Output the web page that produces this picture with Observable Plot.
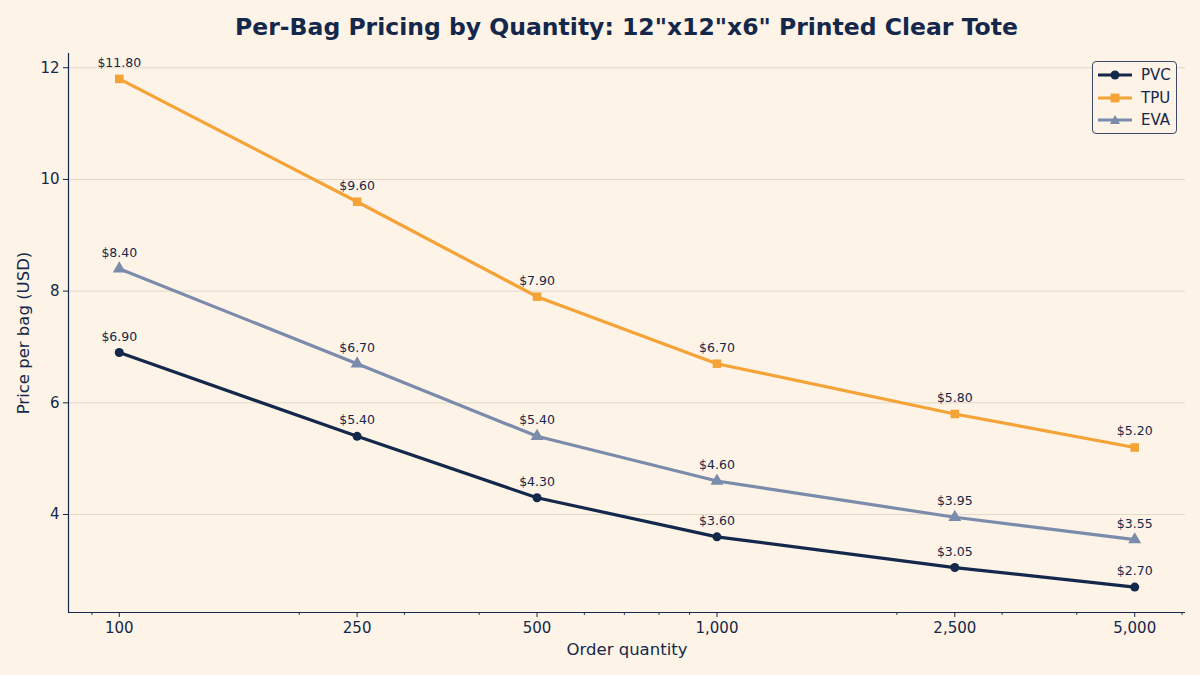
<!DOCTYPE html>
<html>
<head>
<meta charset="utf-8">
<script src="https://cdn.jsdelivr.net/npm/d3@7"></script>
<script src="https://cdn.jsdelivr.net/npm/@observablehq/plot@0.6"></script>
<style>
  html, body { margin: 0; padding: 0; background: #fdf3e6; }
  #wrap { position: relative; width: 1200px; height: 675px; font-family: "DejaVu Sans", sans-serif; }
  #title { position: absolute; left: 68px; width: 1117px; top: 13px; text-align: center; font-size: 23.5px; font-weight: bold; color: #14284b; }
  #legend { position: absolute; left: 1092px; top: 61px; width: 83px; height: 71px; border: 1px solid #3d4b68; border-radius: 4px; background: #fdf3e6; }
  .lrow { position: absolute; left: 0; width: 83px; height: 20px; display: flex; align-items: center; white-space: nowrap; }
  .lrow svg { flex-shrink: 0; }
  .lrow span { font-size: 15px; color: #14284b; margin-left: 8px; flex-shrink: 0; }
</style>
</head>
<body>
<div id="wrap">
  <div id="chart"></div>
  <div id="title">Per-Bag Pricing by Quantity: 12"x12"x6" Printed Clear Tote</div>
  <div id="legend"></div>
</div>
<script>
const quantities = [100, 250, 500, 1000, 2500, 5000];
const seriesNames = ["PVC", "TPU", "EVA"];
const pvcPrices = [6.90, 5.40, 4.30, 3.60, 3.05, 2.70];
const tpuPrices = [11.80, 9.60, 7.90, 6.70, 5.80, 5.20];
const evaPrices = [8.40, 6.70, 5.40, 4.60, 3.95, 3.55];
const seriesColors = ["#14284b", "#f5a236", "#7a8bab"];
const seriesSymbols = ["circle", "square", "triangle"];
const xTicks = [100, 250, 500, 1000, 2500, 5000];
const xMinorTicks = [90, 200, 300, 400, 600, 700, 800, 900, 2000, 3000, 4000, 6000];
const yTicks = [4, 6, 8, 10, 12];

const priceLists = [pvcPrices, tpuPrices, evaPrices];
const rows = [];
seriesNames.forEach((s, i) => quantities.forEach((q, j) => rows.push({series: s, qty: q, price: priceLists[i][j]})));

const lo = Math.log10(quantities[0]), hi = Math.log10(quantities[quantities.length - 1]);
const xDomain = [10 ** (lo - 0.05 * (hi - lo)), 10 ** (hi + 0.05 * (hi - lo))];
const allP = rows.map(d => d.price);
const pmin = d3.min(allP), pmax = d3.max(allP);
const yDomain = [pmin - 0.05 * (pmax - pmin), pmax + 0.05 * (pmax - pmin)];

const navy = "#14284b";
const marks = [
  Plot.gridY(yTicks, {stroke: "#e2d9cb", strokeOpacity: 1, strokeWidth: 1}),
  Plot.axisY(yTicks, {tickSize: 5, tickFormat: d => d, fontSize: 15, fill: navy, stroke: navy, tickPadding: 4, label: null}),
  Plot.axisX(xTicks, {tickSize: 5, tickFormat: d3.format(","), fontSize: 15, fill: navy, stroke: navy, tickPadding: 5, label: null}),
  Plot.axisX(xMinorTicks, {tickSize: 2.8, tickFormat: null, text: null, stroke: navy, label: null}),
  Plot.ruleX([xDomain[0]], {stroke: navy, strokeWidth: 1.2}),
  Plot.ruleY([yDomain[0]], {stroke: navy, strokeWidth: 1.2}),
];
seriesNames.forEach((s, i) => {
  const data = rows.filter(d => d.series === s);
  marks.push(Plot.line(data, {x: "qty", y: "price", stroke: seriesColors[i], strokeWidth: 3.2}));
  marks.push(Plot.dot(data, {x: "qty", y: "price", fill: seriesColors[i], symbol: seriesSymbols[i], r: i === 0 ? 4.5 : 4.8, stroke: "none"}));
  marks.push(Plot.text(data, {x: "qty", y: "price", text: d => "$" + d.price.toFixed(2), dy: -16, fontSize: 12.5, fill: navy}));
});

const chart = Plot.plot({
  width: 1200,
  height: 675,
  marginLeft: 68,
  marginRight: 15,
  marginTop: 53,
  marginBottom: 63,
  style: {background: "#fdf3e6", fontFamily: "DejaVu Sans, sans-serif", color: navy, overflow: "visible"},
  x: {type: "log", domain: xDomain, label: null},
  y: {domain: yDomain, label: null},
  marks: [
    ...marks,
    Plot.text(["Order quantity"], {frameAnchor: "bottom", dy: 42, fontSize: 16.5, fill: navy}),
    Plot.text(["Price per bag (USD)"], {frameAnchor: "left", textAnchor: "middle", dx: -45, rotate: -90, fontSize: 16.5, fill: navy})
  ]
});
document.getElementById("chart").appendChild(chart);

const leg = document.getElementById("legend");
seriesNames.forEach((s, i) => {
  const row = document.createElement("div");
  row.className = "lrow";
  row.style.top = (3 + i * 22.5) + "px";
  const sym = seriesSymbols[i];
  let marker;
  if (sym === "circle") marker = `<circle cx="17" cy="10" r="4.5" fill="${seriesColors[i]}"/>`;
  else if (sym === "square") marker = `<rect x="12.6" y="5.6" width="8.8" height="8.8" fill="${seriesColors[i]}"/>`;
  else marker = `<path d="M17,5 L22,14 L12,14 Z" fill="${seriesColors[i]}"/>`;
  row.innerHTML = `<svg width="35" height="20" style="margin-left:5px"><line x1="0" x2="34" y1="10" y2="10" stroke="${seriesColors[i]}" stroke-width="3"/>${marker}</svg><span>${s}</span>`;
  leg.appendChild(row);
});
</script>
</body>
</html>
